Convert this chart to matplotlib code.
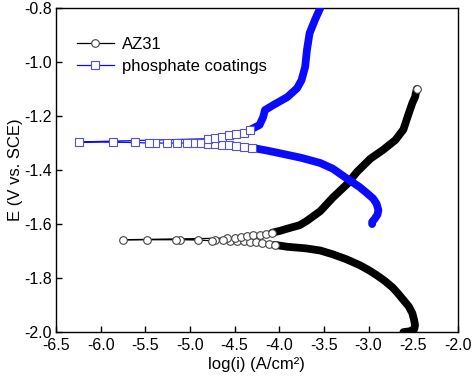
import matplotlib
matplotlib.use("Agg")
import matplotlib.pyplot as plt
from matplotlib.lines import Line2D

plt.rcParams['font.family'] = ['Liberation Sans', 'DejaVu Sans']

# AZ31 - cathodic branch, from near Ecorr out to the tail
az31_cath_x = [-4.55, -4.47, -4.40, -4.33, -4.26, -4.19, -4.12, -4.05, -3.91, -3.70,
               -3.54, -3.40, -3.25, -3.10, -3.00, -2.91, -2.82, -2.73, -2.67, -2.61,
               -2.55, -2.51, -2.49, -2.48, -2.49, -2.54, -2.61]
az31_cath_y = [-1.661, -1.662, -1.664, -1.666, -1.668, -1.671, -1.674, -1.677, -1.684, -1.690,
               -1.698, -1.712, -1.730, -1.752, -1.770, -1.789, -1.810, -1.835, -1.857, -1.881,
               -1.905, -1.930, -1.955, -1.975, -1.990, -1.997, -2.000]
# AZ31 - sparse points around Ecorr
az31_ecorr_x = [-4.63, -4.72, -4.75, -4.91, -5.11, -5.16, -5.48, -5.75]
az31_ecorr_y = [-1.659, -1.660, -1.662, -1.659, -1.658, -1.658, -1.658, -1.658]
# AZ31 - anodic branch
az31_anod_x = [-4.58, -4.50, -4.43, -4.36, -4.29, -4.22, -4.15, -4.08, -3.99, -3.91,
               -3.77, -3.69, -3.54, -3.40, -3.24, -3.13, -2.98, -2.84, -2.70, -2.61,
               -2.56, -2.51, -2.48, -2.46]
az31_anod_y = [-1.652, -1.650, -1.648, -1.645, -1.642, -1.639, -1.636, -1.632, -1.625, -1.617,
               -1.604, -1.588, -1.552, -1.502, -1.452, -1.407, -1.358, -1.326, -1.289, -1.250,
               -1.200, -1.152, -1.130, -1.100]

# phosphate coatings - cathodic branch
ph_cath_x = [-4.80, -4.72, -4.64, -4.56, -4.48, -4.40, -4.30, -4.15, -3.99, -3.75,
             -3.54, -3.40, -3.24, -3.10, -3.02, -2.95, -2.91, -2.89, -2.90, -2.93,
             -2.96, -2.96]
ph_cath_y = [-1.302, -1.304, -1.306, -1.308, -1.310, -1.313, -1.318, -1.327, -1.338, -1.355,
             -1.374, -1.395, -1.432, -1.463, -1.485, -1.505, -1.525, -1.548, -1.565, -1.580,
             -1.592, -1.600]
# phosphate coatings - sparse points around Ecorr
ph_ecorr_x = [-4.89, -4.97, -5.03, -5.14, -5.26, -5.39, -5.46, -5.62, -5.86, -6.24]
ph_ecorr_y = [-1.300, -1.300, -1.300, -1.300, -1.300, -1.300, -1.300, -1.298, -1.297, -1.296]
# phosphate coatings - anodic branch
ph_anod_x = [-4.80, -4.72, -4.64, -4.56, -4.48, -4.40, -4.33, -4.22, -4.18, -4.16,
             -4.07, -3.91, -3.80, -3.75, -3.71, -3.69, -3.66, -3.60, -3.55, -3.54]
ph_anod_y = [-1.284, -1.281, -1.277, -1.272, -1.267, -1.262, -1.252, -1.233, -1.204, -1.178,
             -1.160, -1.130, -1.097, -1.067, -1.018, -0.956, -0.893, -0.844, -0.807, -0.800]

xticks = [-6.5, -6.0, -5.5, -5.0, -4.5, -4.0, -3.5, -3.0, -2.5, -2.0]
yticks = [-2.0, -1.8, -1.6, -1.4, -1.2, -1.0, -0.8]

fig = plt.figure(figsize=(4.74, 3.80), dpi=100)
ax = fig.add_axes([0.118, 0.126, 0.848, 0.853])

series = [
    (az31_cath_x, az31_cath_y, az31_ecorr_x, az31_ecorr_y, az31_anod_x, az31_anod_y,
     'black', '#444444', 'o', 7, 'AZ31'),
    (ph_cath_x, ph_cath_y, ph_ecorr_x, ph_ecorr_y, ph_anod_x, ph_anod_y,
     '#0a0aff', '#5050d8', 's', 6, 'phosphate coatings'),
]

handles = []
for cx, cy, ex, ey, anx, any_, col, mcol, mk, tube_start, lab in series:
    # connecting line through the whole scan
    full_x = list(reversed(cx)) + ex + anx
    full_y = list(reversed(cy)) + ey + any_
    ax.plot(full_x, full_y, color=col, lw=0.9, zorder=2)
    # dense part of the scan (overlapping markers form a solid tube)
    ax.plot(cx[tube_start:], cy[tube_start:], color=col, lw=5.6,
            solid_capstyle='round', zorder=3)
    ax.plot(anx[tube_start:], any_[tube_start:], color=col, lw=5.6,
            solid_capstyle='round', zorder=3)
    # open markers in the sparse region
    ax.plot(cx[:tube_start + 1], cy[:tube_start + 1], ls='none', marker=mk, ms=5.5,
            mfc='white', mec=mcol, mew=0.8, zorder=4)
    ax.plot(anx[:tube_start + 1], any_[:tube_start + 1], ls='none', marker=mk, ms=5.5,
            mfc='white', mec=mcol, mew=0.8, zorder=4)
    ax.plot(ex, ey, ls='none', marker=mk, ms=5.5, mfc='white', mec=mcol, mew=0.8, zorder=4)
    handles.append(Line2D([], [], color=col, lw=0.9, marker=mk, ms=5.5,
                          mfc='white', mec=mcol, mew=0.8, label=lab))

# end marker of the AZ31 curve
ax.plot([az31_anod_x[-1]], [az31_anod_y[-1]], ls='none', marker='o', ms=5.5,
        mfc='white', mec='#444444', mew=0.8, zorder=5)

ax.set_xlim(-6.5, -2.0)
ax.set_ylim(-2.0, -0.8)
ax.set_xticks(xticks)
ax.set_yticks(yticks)
ax.set_xticklabels([f"{t:.1f}" for t in xticks])
ax.set_yticklabels([f"{t:.1f}" for t in yticks])
ax.tick_params(direction='in', length=4, width=1, labelsize=11.5, pad=3)
ax.tick_params(axis='x', pad=4)
for s in ax.spines.values():
    s.set_linewidth(1.0)

ax.set_xlabel("log(i) (A/cm²)", fontsize=12, labelpad=3)
ax.set_ylabel("E (V vs. SCE)", fontsize=12, labelpad=1)

ax.legend(handles=handles, loc='upper left', bbox_to_anchor=(0.052, 0.91),
          frameon=False, fontsize=12, handlelength=2.2, handletextpad=0.5,
          labelspacing=0.4, borderpad=0, borderaxespad=0)

fig.savefig("out.png", dpi=100)
